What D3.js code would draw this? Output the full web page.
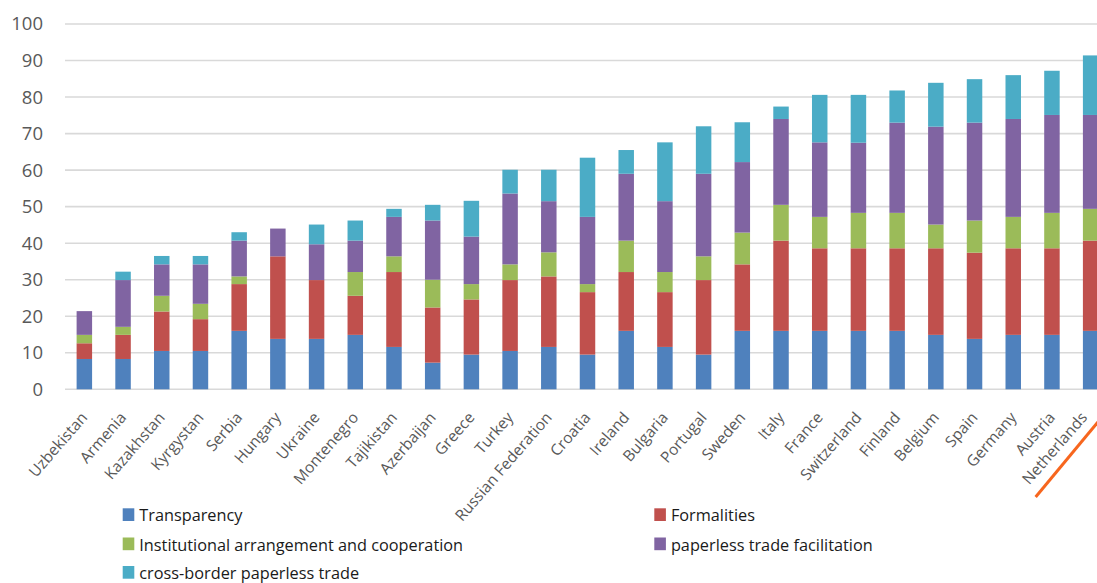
<!DOCTYPE html>
<html>
<head>
<meta charset="utf-8">
<script src="https://cdn.jsdelivr.net/npm/d3@7"></script>
<style>
  html, body { margin: 0; padding: 0; background: #fff; }
  svg { display: block; font-family: "Open Sans", sans-serif; }
</style>
</head>
<body>
<svg id="chart" width="1097" height="583"></svg>
<script>
const countries = ["Uzbekistan","Armenia","Kazakhstan","Kyrgystan","Serbia","Hungary","Ukraine","Montenegro","Tajikistan","Azerbaijan","Greece","Turkey","Russian Federation","Croatia","Ireland","Bulgaria","Portugal","Sweden","Italy","France","Switzerland","Finland","Belgium","Spain","Germany","Austria","Netherlands"];
const seriesNames = ["Transparency","Formalities","Institutional arrangement and cooperation","paperless trade facilitation","cross-border paperless trade"];
const transparency = [8.3,8.3,10.5,10.5,16.0,13.8,13.8,14.9,11.6,7.3,9.5,10.5,11.6,9.5,16.0,11.6,9.5,16.0,16.0,16.0,16.0,16.0,14.9,13.8,14.9,14.9,16.0];
const formalities = [4.3,6.6,10.8,8.7,12.8,22.6,16.1,10.7,20.5,15.1,15.1,19.4,19.3,17.1,16.1,15.0,20.4,18.2,24.7,22.6,22.6,22.6,23.7,23.6,23.7,23.7,24.7];
const institutional = [2.3,2.2,4.3,4.2,2.1,0,0,6.5,4.3,7.6,4.2,4.3,6.6,2.2,8.6,5.5,6.5,8.7,9.8,8.6,9.7,9.7,6.5,8.8,8.6,9.7,8.7];
const paperless = [6.5,12.8,8.6,10.8,9.8,7.6,9.8,8.6,10.8,16.2,13.0,19.4,14.0,18.4,18.3,19.4,22.6,19.3,23.5,20.4,19.2,24.7,26.8,26.8,26.8,26.8,25.7];
const crossBorder = [0,2.3,2.3,2.3,2.3,0,5.4,5.5,2.2,4.3,9.8,6.5,8.6,16.2,6.5,16.1,13.0,10.9,3.4,13.0,13.1,8.8,12.0,11.9,12.0,12.1,16.3];
const yTicks = [0,10,20,30,40,50,60,70,80,90,100];
const colors = ["#4F81BD","#C0504D","#9BBB59","#8064A2","#4BACC6"];

const allSeries = [transparency, formalities, institutional, paperless, crossBorder];
const rows = countries.map((c, i) => {
  const r = { country: c };
  seriesNames.forEach((s, j) => { r[s] = allSeries[j][i]; });
  return r;
});

const svg = d3.select("#chart");
const W = 1097;
const plotLeft = 65, plotRight = 1110, plotTop = 24, plotBottom = 389.3;

const x = d3.scaleBand().domain(countries).range([plotLeft, plotRight]).paddingInner(0.6).paddingOuter(0.3);
const y = d3.scaleLinear().domain([0, 100]).range([plotBottom, plotTop]);

// gridlines
svg.append("g").selectAll("line").data(yTicks).join("line")
  .attr("x1", plotLeft).attr("x2", W)
  .attr("y1", d => y(d)).attr("y2", d => y(d))
  .attr("stroke", "#d9d9d9").attr("stroke-width", 1.6);

// y tick labels
svg.append("g").selectAll("text").data(yTicks).join("text")
  .attr("x", 43).attr("y", d => y(d)).attr("dy", "0.35em")
  .attr("text-anchor", "end").attr("font-size", 18.5).attr("fill", "#595959")
  .text(d => d);

// stacked bars
const stack = d3.stack().keys(seriesNames)(rows);
svg.append("g").selectAll("g").data(stack).join("g")
  .attr("fill", (d, i) => colors[i])
  .selectAll("rect").data(d => d).join("rect")
  .attr("x", d => x(d.data.country))
  .attr("width", x.bandwidth())
  .attr("y", d => y(d[1]))
  .attr("height", d => Math.max(0, y(d[0]) - y(d[1])));

// x labels (kept inside the picture's right edge)
svg.append("g").selectAll("text").data(countries).join("text")
  .attr("transform", d => `translate(${Math.min(x(d) + x.bandwidth() / 2 + 4, W - 9)},${418}) rotate(-49)`)
  .attr("text-anchor", "end").attr("font-size", 15.5).attr("fill", "#595959")
  .text(d => d);

// orange underline for Netherlands
const nx = x("Netherlands") + x.bandwidth() / 2;
svg.append("line")
  .attr("x1", nx - 55).attr("y1", 497)
  .attr("x2", nx + 18).attr("y2", 409)
  .attr("stroke", "#F7661E").attr("stroke-width", 3);

// legend
const legendPos = [[122.7, 508.3], [654.3, 508.3], [122.7, 537.5], [654.3, 537.5], [122.7, 566]];
const lg = svg.append("g").selectAll("g").data(seriesNames).join("g")
  .attr("transform", (d, i) => `translate(${legendPos[i][0]},${legendPos[i][1]})`);
lg.append("rect").attr("width", 11.6).attr("height", 12.7).attr("fill", (d, i) => colors[i]);
lg.append("text").attr("x", 16.6).attr("y", 13).attr("font-size", 16.3).attr("fill", "#1a1a1a").text(d => d);
</script>
</body>
</html>
